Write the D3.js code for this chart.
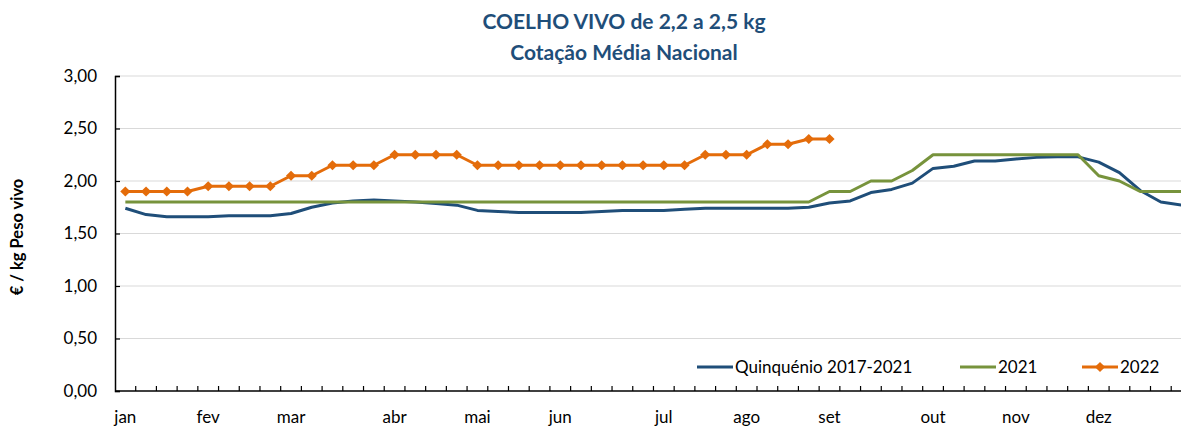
<!DOCTYPE html>
<html>
<head>
<meta charset="utf-8">
<script src="https://cdn.jsdelivr.net/npm/d3@7"></script>
<style>
  body { margin: 0; background: #fff; }
  svg { display: block; font-family: Lato, "Open Sans", sans-serif; }
</style>
</head>
<body>
<svg width="1181" height="428"></svg>
<script>
// weekly prices, €/kg live weight
var weeks = d3.range(52);

var quinquenio = [1.74,1.68,1.66,1.66,1.66,1.67,1.67,1.67,1.69,1.75,
                  1.79,1.81,1.82,1.81,1.80,1.785,1.77,1.72,1.71,1.70,
                  1.70,1.70,1.70,1.71,1.72,1.72,1.72,1.73,1.74,1.74,
                  1.74,1.74,1.74,1.75,1.79,1.81,1.89,1.92,1.98,2.12,
                  2.14,2.19,2.19,2.21,2.225,2.23,2.23,2.18,2.08,1.91,
                  1.80,1.77];

var y2021 = [1.80,1.80,1.80,1.80,1.80,1.80,1.80,1.80,1.80,1.80,
             1.80,1.80,1.80,1.80,1.80,1.80,1.80,1.80,1.80,1.80,
             1.80,1.80,1.80,1.80,1.80,1.80,1.80,1.80,1.80,1.80,
             1.80,1.80,1.80,1.80,1.90,1.90,2.00,2.00,2.10,2.25,
             2.25,2.25,2.25,2.25,2.25,2.25,2.25,2.05,2.00,1.90,
             1.90,1.90];

var y2022 = [1.90,1.90,1.90,1.90,1.95,1.95,1.95,1.95,2.05,2.05,
             2.15,2.15,2.15,2.25,2.25,2.25,2.25,2.15,2.15,2.15,
             2.15,2.15,2.15,2.15,2.15,2.15,2.15,2.15,2.25,2.25,
             2.25,2.35,2.35,2.40,2.40];

var monthNames = ["jan","fev","mar","abr","mai","jun","jul","ago","set","out","nov","dez"];
var monthWeek  = [0, 4, 8, 13, 17, 21, 26, 30, 34, 39, 43, 47];

var yTicks = [0, 0.5, 1, 1.5, 2, 2.5, 3];

var svg = d3.select("svg"),
    plotLeft = 115,
    bandW = 20.71,
    plotTop = 76,
    plotBottom = 391;

var x = d3.scaleBand()
    .domain(weeks)
    .range([plotLeft, plotLeft + bandW * weeks.length])
    .paddingInner(0).paddingOuter(0);

var y = d3.scaleLinear().domain([0, 3]).range([plotBottom, plotTop]);

function cx(i) { return x(i) + x.bandwidth() / 2; }

// title
var title = svg.append("g").attr("fill", "#1f4e79").attr("font-weight", "bold")
    .attr("text-anchor", "middle").attr("font-size", "21px");
title.append("text").attr("x", 624).attr("y", 29).text("COELHO VIVO de 2,2 a 2,5 kg");
title.append("text").attr("x", 624).attr("y", 60).text("Cotação Média Nacional");

// gridlines
svg.append("g").selectAll("line")
  .data(yTicks.filter(function(d) { return d > 0; }))
  .enter().append("line")
    .attr("x1", plotLeft).attr("x2", 1181)
    .attr("y1", function(d) { return y(d); })
    .attr("y2", function(d) { return y(d); })
    .attr("stroke", "#d9d9d9").attr("stroke-width", 1);

// y axis
var yAxis = svg.append("g")
    .attr("transform", "translate(" + plotLeft + ",0)")
    .call(d3.axisLeft(y).tickValues(yTicks).tickSize(-5).tickPadding(18)
      .tickFormat(function(d) { return d3.format(".2f")(d).replace(".", ","); }));
yAxis.select(".domain").attr("stroke", "#000").attr("stroke-width", 1.5);
yAxis.selectAll(".tick line").attr("stroke", "#000").attr("stroke-width", 1.2);
yAxis.selectAll("text").attr("font-size", "17px").attr("fill", "#000")
    .attr("font-family", "Lato, sans-serif");

svg.append("text")
    .attr("transform", "translate(23,237) rotate(-90)")
    .attr("text-anchor", "middle")
    .attr("font-size", "16.5px").attr("font-weight", "bold")
    .text("€ / kg Peso vivo");

// x axis
svg.append("line")
    .attr("x1", plotLeft).attr("x2", 1181)
    .attr("y1", plotBottom).attr("y2", plotBottom)
    .attr("stroke", "#000").attr("stroke-width", 1.5);

svg.append("g").selectAll("line")
  .data(weeks.slice(1))
  .enter().append("line")
    .attr("x1", function(d) { return x(d); })
    .attr("x2", function(d) { return x(d); })
    .attr("y1", plotBottom).attr("y2", plotBottom - 5)
    .attr("stroke", "#000").attr("stroke-width", 1.2);

svg.append("g").selectAll("text")
  .data(monthNames)
  .enter().append("text")
    .attr("x", function(d, i) { return cx(monthWeek[i]); })
    .attr("y", 423)
    .attr("text-anchor", "middle")
    .attr("font-size", "17px")
    .text(function(d) { return d; });

// lines
var line = d3.line()
    .x(function(d, i) { return cx(i); })
    .y(function(d) { return y(d); });

svg.append("path").datum(quinquenio)
    .attr("d", line).attr("fill", "none")
    .attr("stroke", "#1f4e79").attr("stroke-width", 3).attr("stroke-linejoin", "round");

svg.append("path").datum(y2021)
    .attr("d", line).attr("fill", "none")
    .attr("stroke", "#77933c").attr("stroke-width", 3).attr("stroke-linejoin", "round");

svg.append("path").datum(y2022)
    .attr("d", line).attr("fill", "none")
    .attr("stroke", "#e46c0a").attr("stroke-width", 3).attr("stroke-linejoin", "round");

// square turned 45° -> Excel-style diamond marker
var diamond = d3.symbol().type(d3.symbolSquare).size(52);

svg.append("g").selectAll("path")
  .data(y2022)
  .enter().append("path")
    .attr("d", diamond)
    .attr("transform", function(d, i) { return "translate(" + cx(i) + "," + y(d) + ") rotate(45)"; })
    .attr("fill", "#e46c0a");

// legend
var legend = [
  {name: "Quinquénio 2017-2021", color: "#1f4e79", x: 697, marker: false},
  {name: "2021", color: "#77933c", x: 960, marker: false},
  {name: "2022", color: "#e46c0a", x: 1082, marker: true}
];

var lg = svg.append("g").selectAll("g")
  .data(legend)
  .enter().append("g")
    .attr("transform", function(d) { return "translate(" + d.x + ",367)"; });

lg.append("line")
    .attr("x1", 0).attr("x2", 36)
    .attr("stroke", function(d) { return d.color; })
    .attr("stroke-width", 3);

lg.filter(function(d) { return d.marker; }).append("path")
    .attr("d", diamond)
    .attr("transform", "translate(18,0) rotate(45)")
    .attr("fill", function(d) { return d.color; });

lg.append("text")
    .attr("x", 38).attr("y", 6)
    .attr("font-size", "17px")
    .text(function(d) { return d.name; });
</script>
</body>
</html>
